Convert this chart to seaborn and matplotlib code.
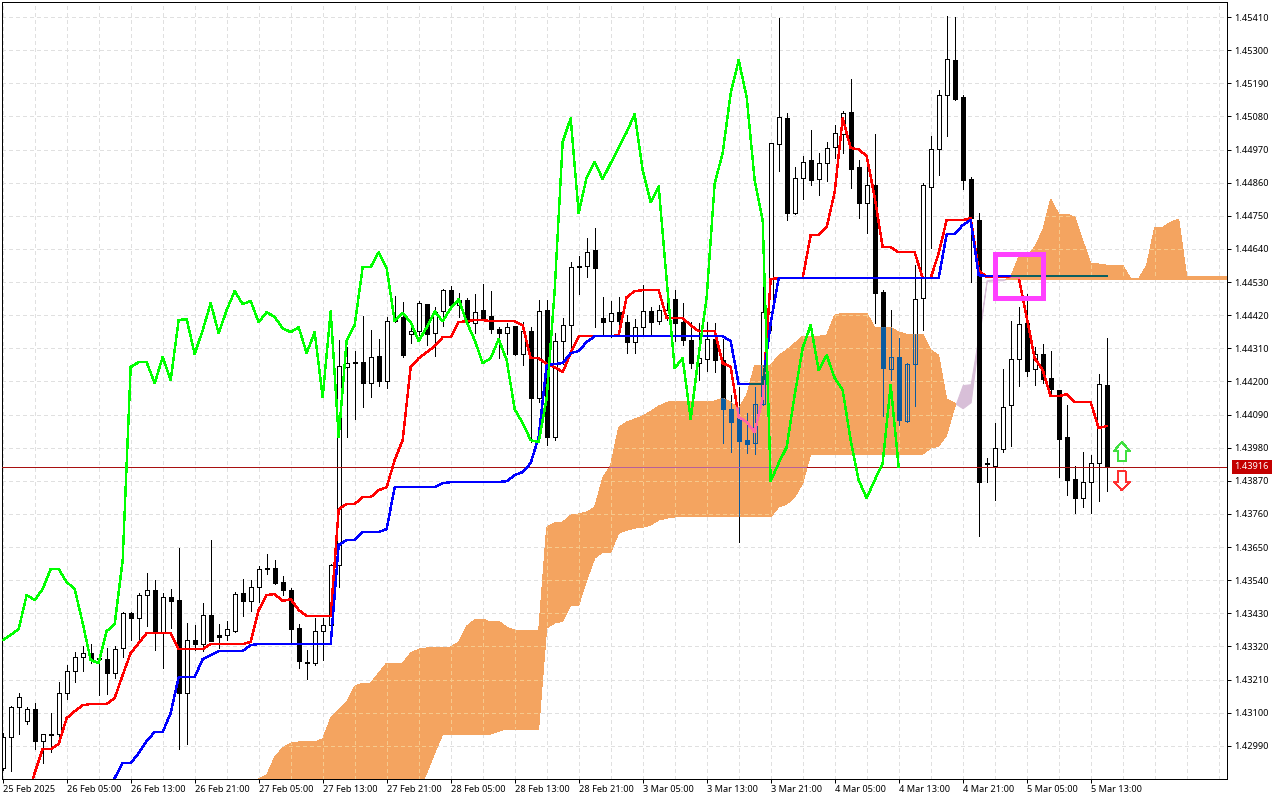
import matplotlib
matplotlib.use("Agg")
import matplotlib.pyplot as plt
from matplotlib.patches import Polygon, Rectangle
from matplotlib.path import Path
from matplotlib.ticker import MultipleLocator
import numpy as np
import seaborn as sns

# H1 candles, prices in 1e-5 units
opens = [142918,143018,143120,143073,143111,143007,143031,143031,143166,143239,
         143284,143300,143283,143280,143231,143314,143430,143416,143490,143506,
         143369,143483,143476,143166,143343,143329,143423,143357,143359,143372,
         143496,143472,143518,143580,143582,143533,143509,143380,143270,143264,
         143370,143393,143589,144249,144265,144263,144194,144283,144203,144406,
         144415,144356,144366,144457,144362,144433,144504,144455,144470,144395,
         144437,144417,144373,144362,144384,144291,144366,144146,144437,144017,
         144333,144386,144580,144582,144636,144410,144400,144431,144397,144332,
         144382,144433,144400,144421,144473,144397,144337,144261,144274,144341,
         144271,144108,144082,144005,143995,144125,144430,144988,145074,144759,
         144875,144935,144872,144925,144978,145021,145094,144912,144792,144852,
         144497,144241,144281,144068,144258,144477,144845,144971,145151,145267,
         145144,144872,144736,143929,143919,143975,144121,144274,144394,144241,
         144291,144211,144171,144015,143876,143813,143866,143929,144188]
highs = [143032,143122,143166,143120,143131,143031,143098,143203,143258,143302,
         143321,143328,143295,143314,143321,143436,143436,143498,143563,143540,
         143496,143511,143646,143397,143390,143463,143673,143394,143403,143501,
         143543,143540,143587,143627,143607,143554,143513,143394,143308,143416,
         143416,143594,144337,144315,144302,144417,144371,144340,144415,144484,
         144465,144393,144468,144457,144446,144506,144517,144493,144476,144490,
         144524,144501,144382,144393,144384,144398,144382,144470,144470,144360,
         144410,144598,144616,144678,144708,144479,144468,144479,144421,144406,
         144521,144446,144454,144509,144504,144460,144397,144394,144397,144394,
         144341,144155,144181,144095,144181,144536,144991,145406,145091,144912,
         144948,145034,144958,144995,145051,145097,145204,144935,144925,145021,
         144503,144437,144344,144261,144586,144858,145014,145167,145413,145410,
         145151,144878,144759,143945,144062,144241,144400,144447,144490,144314,
         144324,144301,144171,144121,143919,143965,143955,144224,144344]
lows = [142910,142907,143029,143062,142981,142932,142970,143007,143146,143203,
        143239,143264,143160,143162,143216,143286,143341,143341,143388,143308,
        143247,143381,142978,142996,143308,143306,143337,143316,143341,143368,
        143421,143437,143468,143560,143527,143491,143330,143248,143212,143258,
        143275,143391,143518,144017,144076,144116,144149,144186,144179,144398,
        144280,144327,144354,144321,144284,144384,144446,144415,144393,144360,
        144404,144360,144277,144291,144289,144255,144000,144133,143989,144006,
        144258,144299,144490,144548,144382,144354,144346,144354,144296,144293,
        144354,144354,144391,144404,144335,144321,144244,144204,144234,144231,
        143995,143965,143667,143962,143959,144121,144370,144898,144736,144756,
        144805,144852,144819,144865,144941,144958,144842,144742,144692,144394,
        144085,144204,144055,144065,144118,144370,144643,144885,145014,145134,
        144839,144530,143686,143866,143806,143965,143985,144184,144218,144188,
        144194,144161,143882,143823,143763,143783,143763,143803,143836]
closes = [143018,143120,143153,143111,143007,143028,143027,143166,143239,143284,
          143300,143277,143279,143231,143310,143430,143416,143490,143506,143372,
          143485,143472,143166,143343,143329,143423,143339,143352,143377,143493,
          143472,143518,143576,143576,143532,143509,143379,143273,143264,143370,
          143393,143589,144251,144262,144262,144194,144282,144203,144402,144402,
          144289,144366,144459,144359,144432,144504,144455,144470,144398,144429,
          144411,144375,144362,144382,144291,144366,144146,144435,144017,144333,
          144386,144579,144582,144631,144578,144398,144428,144400,144332,144382,
          144433,144398,144436,144437,144395,144337,144261,144277,144341,144271,
          144108,144065,144002,143992,144125,144430,144991,145078,144759,144875,
          144928,144868,144925,144975,145024,145091,144905,144792,144852,144493,
          144244,144281,144072,144258,144473,144852,144971,145151,145270,145137,
          144868,144742,143866,143926,143979,144115,144274,144390,144234,144291,
          144208,144175,144009,143872,143813,143866,143929,144191,143916]

# ichimoku lines
tenkan_start = 3
tenkan = [142810,142900,142979,142979,142996,143082,143105,143125,143129,143129,
          143129,143149,143225,143298,143331,143364,143364,143364,143364,143311,
          143311,143311,143311,143328,143328,143328,143328,143328,143335,143441,
          143491,143494,143471,143477,143441,143421,143421,143421,143421,143776,
          143793,143793,143816,143816,143839,143849,143939,144005,144248,144277,
          144297,144317,144347,144347,144397,144400,144404,144404,144400,144400,
          144400,144400,144387,144277,144277,144258,144248,144231,144294,144350,
          144350,144350,144350,144350,144354,144480,144500,144503,144503,144503,
          144410,144410,144410,144387,144367,144367,144367,144261,144248,144082,
          144065,144032,144145,144540,144543,144543,144543,144543,144686,144686,
          144712,144829,145074,144975,144971,144948,144812,144646,144646,144629,
          144629,144629,144543,144543,144626,144736,144736,144736,144742,144570,
          144546,144546,144546,144546,144546,144414,144277,144238,144151,144151,
          144158,144131,144131,144131,144045,144052]
kijun_start = 13
kijun = [142790,142883,142933,142933,142966,143006,143036,143036,143099,143218,
         143218,143218,143278,143291,143305,143305,143305,143305,143325,143328,
         143328,143328,143328,143328,143328,143328,143328,143328,143328,143657,
         143673,143673,143700,143700,143700,143710,143849,143849,143849,143849,
         143849,143849,143862,143866,143866,143866,143866,143866,143866,143866,
         143869,143889,143899,143929,144015,144254,144258,144261,144294,144301,
         144331,144350,144350,144350,144350,144350,144350,144350,144350,144350,
         144350,144350,144350,144350,144350,144350,144350,144350,144334,144191,
         144191,144191,144191,144394,144543,144543,144543,144543,144543,144543,
         144543,144543,144543,144543,144543,144543,144543,144543,144543,144543,
         144543,144543,144543,144543,144543,144689,144689,144719,144736,144553,
         144550,144550,144550,144550,144550,144550,144550,144550,144550,144550,
         144550,144550,144550,144550,144550,144550]
chikou = [143341,143358,143378,143491,143474,143511,143577,143577,143534,143511,
          143398,143275,143265,143371,143394,143607,144248,144264,144264,144194,
          144281,144204,144404,144407,144291,144370,144460,144360,144437,144500,
          144457,144467,144397,144430,144414,144377,144364,144380,144294,144364,
          144148,144433,144015,144337,144387,144580,144580,144629,144576,144400,
          144427,144397,144334,144380,144433,144400,144443,144473,144397,144337,
          144261,144277,144341,144271,144108,144062,144005,143999,144145,144503,
          144995,145074,144759,144878,144928,144872,144925,144975,145028,145088,
          144902,144795,144848,144536,144244,144277,144075,144287,144480,144858,
          144958,145157,145267,145144,144868,144736,143869,143929,143982,144155,
          144311,144387,144238,144287,144211,144171,144005,143872,143813,143872,
          143929,144188,143916]
cloud_start = 32
span_a = [142880,142893,142953,142983,142999,143003,143003,143003,143013,143082,
          143109,143135,143188,143198,143198,143232,143265,143265,143265,143298,
          143311,143315,143315,143315,143318,143335,143388,143408,143411,143401,
          143404,143384,143374,143374,143374,143374,143716,143730,143733,143756,
          143760,143766,143783,143879,143922,144048,144065,144075,144085,144101,
          144118,144131,144135,144135,144135,144135,144135,144135,144145,144131,
          144111,144155,144254,144254,144254,144287,144304,144327,144350,144350,
          144350,144354,144420,144427,144427,144427,144427,144380,144380,144380,
          144364,144357,144357,144357,144304,144287,144141,144128,144111,144131,
          144337,144533,144536,144536,144546,144613,144613,144646,144702,144805,
          144756,144756,144746,144669,144593,144590,144586,144586,144586,144541,
          144541,144586,144712,144712,144729,144739,144550,144550,144550,144550,
          144550,144550]
span_b = [142840,142840,142840,142840,142840,142840,142840,142840,142840,142840,
          142840,142840,142840,142840,142840,142840,142840,142840,142840,142840,
          142840,142900,142966,143029,143029,143029,143029,143029,143029,143029,
          143039,143046,143046,143046,143046,143046,143381,143398,143404,143457,
          143457,143540,143613,143633,143633,143696,143706,143713,143716,143723,
          143740,143746,143750,143750,143750,143750,143750,143750,143750,143750,
          143750,143750,143750,143750,143750,143783,143793,143816,143862,143959,
          143959,143959,143959,143959,143959,143959,143959,143959,143959,143959,
          143959,143959,143959,143959,143979,143985,144022,144115,144188,144191,
          144354,144536,144540,144540,144540,144540,144540,144540,144540,144540,
          144540,144540,144540,144540,144540,144540,144540,144540,144540,144540,
          144540,144540,144540,144540,144540,144540,144540,144540,144540,144540,
          144540,144540]

bid_price = 143916
y_ticks = [142990,143100,143210,143320,143430,143540,143650,143760,143870,143980,144090,
           144200,144310,144420,144530,144640,144750,144860,144970,145080,145190,145300,145410]
x_labels = ["25 Feb 2025","26 Feb 05:00","26 Feb 13:00","26 Feb 21:00","27 Feb 05:00",
            "27 Feb 13:00","27 Feb 21:00","28 Feb 05:00","28 Feb 13:00","28 Feb 21:00",
            "3 Mar 05:00","3 Mar 13:00","3 Mar 21:00","4 Mar 05:00","4 Mar 13:00",
            "4 Mar 21:00","5 Mar 05:00","5 Mar 13:00"]

sns.set_theme(style="white", rc={"axes.edgecolor": "black", "axes.linewidth": 0.72})
plt.rcParams["font.family"] = ["Noto Sans", "DejaVu Sans"]
plt.rcParams["lines.antialiased"] = False
plt.rcParams["patch.antialiased"] = False

SAND = "#f4a460"
THISTLE = "#d8bfd8"
GRID = "#e0e0e0"
PX = 0.72  # one pixel in points at dpi 100
LINE_W = 1.4 * PX

fig = plt.figure(figsize=(12.8, 8), dpi=100)
ax = fig.add_axes([2 / 1280, 21 / 800, 1225 / 1280, 777 / 800])

o = np.array(opens) / 1e5
h = np.array(highs) / 1e5
l = np.array(lows) / 1e5
c = np.array(closes) / 1e5
bars = np.arange(len(o))
up = c >= o
body_lo = np.minimum(o, c)
body_hi = np.maximum(o, c)


def draw_candles(color, face_up, zorder):
    wicks = ax.vlines(bars, l, h, color=color, lw=PX, zorder=zorder, antialiased=False)
    ups = ax.bar(bars[up], (body_hi - body_lo)[up], bottom=body_lo[up], width=0.46,
                 facecolor=face_up, edgecolor=color, linewidth=PX, zorder=zorder + 0.1)
    downs = ax.bar(bars[~up], (body_hi - body_lo)[~up], bottom=body_lo[~up], width=0.46,
                   facecolor=color, edgecolor=color, linewidth=PX, zorder=zorder + 0.1)
    return [wicks] + list(ups) + list(downs)


draw_candles("black", "white", 2)

# cloud, sand colour while span A is on top, thistle while span B is
cloud_x = np.arange(cloud_start, cloud_start + len(span_a))
a = np.array(span_a) / 1e5
b = np.array(span_b) / 1e5
ax.fill_between(cloud_x, a, b, where=b >= a, interpolate=True, facecolor=THISTLE,
                edgecolor=THISTLE, linewidth=PX, zorder=1.5, antialiased=False)
sand = ax.fill_between(cloud_x, a, b, where=a >= b, interpolate=True, color=SAND,
                       linewidth=0, zorder=3, antialiased=False)
cloud_path = Path.make_compound_path(*sand.get_paths())

# inside the cloud everything changes colour
for art in draw_candles("#0b5b9f", "none", 3.2):
    art.set_clip_path(cloud_path, ax.transData)

xmin, xmax = (2 - 2.67) / 8, (1227 - 2.67) / 8
ymin, ymax = 1.42880, 1.45460

grid_v = ax.vlines(np.arange(0, 154, 4), ymin, ymax, color="#f6c98c", lw=PX,
                   linestyles=(0, (3, 3)), zorder=3.1, antialiased=False)
grid_h = ax.hlines(np.array(y_ticks) / 1e5, xmin, xmax, color="#f6c98c", lw=PX,
                   linestyles=(0, (3, 3)), zorder=3.1, antialiased=False)
grid_v.set_clip_path(cloud_path, ax.transData)
grid_h.set_clip_path(cloud_path, ax.transData)

# bid line
ax.axhline(bid_price / 1e5, color="#a81010", lw=PX, zorder=4, antialiased=False)
ax.axhline(bid_price / 1e5, color="#b8609a", lw=PX, zorder=4.1,
           antialiased=False).set_clip_path(cloud_path, ax.transData)

# lines
t_x = np.arange(tenkan_start, tenkan_start + len(tenkan))
k_x = np.arange(kijun_start, kijun_start + len(kijun))
ch_x = np.arange(len(chikou))
t_y = np.array(tenkan) / 1e5
k_y = np.array(kijun) / 1e5
ch_y = np.array(chikou) / 1e5

sns.lineplot(x=t_x, y=t_y, color="#ff0000", linewidth=LINE_W, ax=ax, zorder=5, estimator=None)
sns.lineplot(x=t_x, y=t_y, color="#ff69a8", linewidth=LINE_W, ax=ax, zorder=5.1, estimator=None)
ax.lines[-1].set_clip_path(cloud_path, ax.transData)
sns.lineplot(x=k_x, y=k_y, color="#0000ff", linewidth=LINE_W, ax=ax, zorder=5.2, estimator=None)
sns.lineplot(x=k_x, y=k_y, color="#0b5f60", linewidth=LINE_W, ax=ax, zorder=5.3, estimator=None)
ax.lines[-1].set_clip_path(cloud_path, ax.transData)
sns.lineplot(x=ch_x, y=ch_y, color="#00ff00", linewidth=LINE_W, ax=ax, zorder=5.4, estimator=None)

# arrows next to the last bar
ax.add_patch(Polygon([(139.9, 1.43999), (140.9, 1.43969), (140.36, 1.43969), (140.36, 1.43936),
                      (139.44, 1.43936), (139.44, 1.43969), (138.9, 1.43969)],
                     facecolor="white", edgecolor="#40e040", lw=PX, zorder=6))
ax.add_patch(Polygon([(139.9, 1.43839), (140.9, 1.43866), (140.36, 1.43866), (140.36, 1.43902),
                      (139.44, 1.43902), (139.44, 1.43866), (138.9, 1.43866)],
                     facecolor="white", edgecolor="#ff3030", lw=PX, zorder=6))

# highlighted box
ax.add_patch(Rectangle((124, 1.44477), 6, 0.00146, fill=False, edgecolor="#ff40ff",
                       lw=4.5 * PX, joinstyle="miter", zorder=7))

ax.set_xlim(xmin, xmax)
ax.set_ylim(ymin, ymax)
ax.set_xlabel("")
ax.set_ylabel("")

ax.yaxis.tick_right()
ax.set_yticks(np.array(y_ticks) / 1e5)
ax.set_yticklabels([f"{v / 1e5:.5f}" for v in y_ticks])
ax.set_xticks(np.arange(len(x_labels)) * 8)
ax.set_xticklabels(x_labels, ha="left")
ax.xaxis.set_minor_locator(MultipleLocator(4))
ax.tick_params(axis="both", which="major", length=3, width=PX, labelsize=6.6, color="black",
               labelcolor="black", left=False, right=True, bottom=True, pad=2)
ax.tick_params(axis="x", which="major", pad=1.5)
ax.tick_params(axis="x", which="minor", length=0)
ax.set_axisbelow(True)
ax.grid(which="both", axis="both", color=GRID, lw=PX, linestyle=(0, (3, 3)), zorder=0.5)

# price tag on the bid line
ax.annotate(f"{bid_price / 1e5:.5f}", xy=(1.0, bid_price / 1e5),
            xycoords=ax.get_yaxis_transform(), xytext=(5.5, 0), textcoords="offset points",
            ha="left", va="center", color="white", fontsize=6.6, zorder=10, annotation_clip=False,
            bbox=dict(boxstyle="square,pad=0.3", facecolor="#c40000", edgecolor="#c40000", lw=0))

fig.savefig("out.png", dpi=100)
